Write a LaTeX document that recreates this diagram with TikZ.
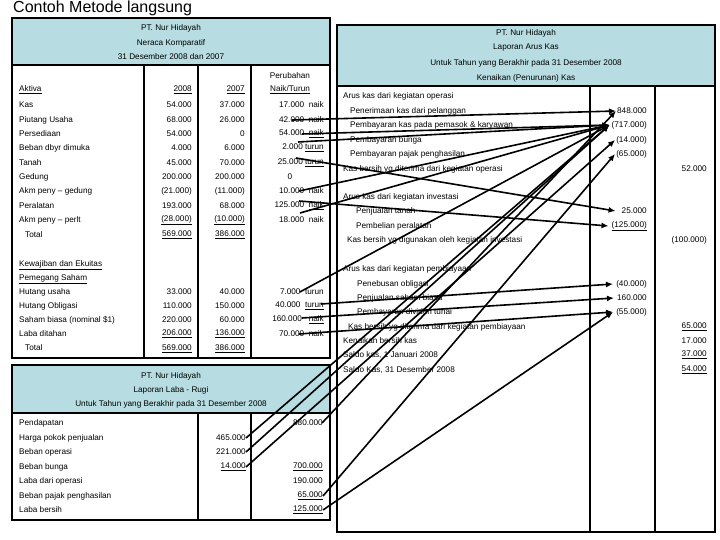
\documentclass[tikz,border=0pt]{standalone}
\usepackage{fontspec}
\setmainfont{Liberation Sans}
\usetikzlibrary{arrows.meta}
\definecolor{hdr}{RGB}{183,221,226}
\begin{document}
\begin{tikzpicture}[x=1pt,y=-1pt,
  t/.style={anchor=west,inner sep=0pt,font=\fontsize{8.2}{9}\selectfont},
  r/.style={anchor=east,inner sep=0pt,font=\fontsize{8.2}{9}\selectfont},
  c/.style={anchor=center,inner sep=0pt,font=\fontsize{8.2}{9}\selectfont},
  box/.style={draw,line width=2.6pt},
  col/.style={line width=1.8pt},
  arr/.style={line width=1.6pt,-{Latex[length=7pt,width=6pt]}}]
\useasboundingbox (0,0) rectangle (720,540);
\node[anchor=west,inner sep=0pt,font=\fontsize{16}{18}\selectfont] (title) at (13,8) {Contoh Metode langsung};
% ---- balance sheet
\fill[white] (12,18) rectangle (330,358);
\fill[hdr] (12,18) rectangle (330,65);
\draw[box] (12,18) rectangle (330,358);
\draw[col] (12,65) -- (330,65);
\draw[col] (144,65) -- (144,358) (198,65) -- (198,358) (251,65) -- (251,358);
\node[c] (b1) at (171,28) {PT. Nur Hidayah};
\node[c] (b2) at (171,43) {Neraca Komparatif};
\node[c] (b3) at (171,57) {31 Desember 2008 dan 2007};
\node[c] (bp) at (290,76) {Perubahan};
\node[t] (a0) at (19,90) {\underline{Aktiva}};
\node[r] (y8) at (192,90) {\underline{2008}};
\node[r] (y7) at (245,90) {\underline{2007}};
\node[c] (nt) at (290,90) {\underline{Naik/Turun}};
\node[t] (a1) at (19,105) {Kas};
\node[t] (a2) at (19,120) {Piutang Usaha};
\node[t] (a3) at (19,134) {Persediaan};
\node[t] (a4) at (19,148) {Beban dbyr dimuka};
\node[t] (a5) at (19,163) {Tanah};
\node[t] (a6) at (19,177) {Gedung};
\node[t] (a7) at (19,191) {Akm peny -- gedung};
\node[t] (a8) at (19,206) {Peralatan};
\node[t] (a9) at (19,220) {Akm peny -- perlt};
\node[t] (a10) at (25,235) {Total};
\node[r] (p1) at (192,105) {54.000};
\node[r] (p2) at (192,120) {68.000};
\node[r] (p3) at (192,134) {54.000};
\node[r] (p4) at (192,148) {4.000};
\node[r] (p5) at (192,163) {45.000};
\node[r] (p6) at (192,177) {200.000};
\node[r] (p7) at (192,191) {(21.000)};
\node[r] (p8) at (192,206) {193.000};
\node[r] (p9) at (192,220) {\underline{(28.000)}};
\node[r] (p10) at (192,235) {\underline{569.000}};
\node[r] (q1) at (245,105) {37.000};
\node[r] (q2) at (245,120) {26.000};
\node[r] (q3) at (245,134) {0};
\node[r] (q4) at (245,148) {6.000};
\node[r] (q5) at (245,163) {70.000};
\node[r] (q6) at (245,177) {200.000};
\node[r] (q7) at (245,191) {(11.000)};
\node[r] (q8) at (245,206) {68.000};
\node[r] (q9) at (245,220) {\underline{(10.000)}};
\node[r] (q10) at (245,235) {\underline{386.000}};
\node[r] (d1) at (324,105) {17.000\ \ naik};
\node[r] (d2) at (324,120) {42.000\ \ naik};
\node[r] (d3) at (324,134) {54.000\ \ \underline{naik}};
\node[r] (d4) at (324,148) {2.000 \underline{turun}};
\node[r] (d5) at (324,163) {25.000 \underline{turun}};
\node[c] (d6) at (290,177) {0};
\node[r] (d7) at (324,191) {10.000\ \ naik};
\node[r] (d8) at (324,206) {125.000\ \ \underline{naik}};
\node[r] (d9) at (324,220) {18.000\ \ naik};
\node[t] (k0) at (19,265) {\underline{Kewajiban dan Ekuitas}};
\node[t] (k1) at (19,279) {\underline{Pemegang Saham}};
\node[t] (k2) at (19,292) {Hutang usaha};
\node[t] (k3) at (19,306) {Hutang Obligasi};
\node[t] (k4) at (19,320) {Saham biasa (nominal \$1)};
\node[t] (k5) at (19,334) {Laba ditahan};
\node[t] (k6) at (25,348) {Total};
\node[r] (kp2) at (192,292) {33.000};
\node[r] (kp3) at (192,306) {110.000};
\node[r] (kp4) at (192,320) {220.000};
\node[r] (kp5) at (192,334) {\underline{206.000}};
\node[r] (kp6) at (192,349) {\underline{569.000}};
\node[r] (kq2) at (245,292) {40.000};
\node[r] (kq3) at (245,306) {150.000};
\node[r] (kq4) at (245,320) {60.000};
\node[r] (kq5) at (245,334) {\underline{136.000}};
\node[r] (kq6) at (245,349) {\underline{386.000}};
\node[r] (kd2) at (324,292) {7.000\ \ turun};
\node[r] (kd3) at (324,306) {40.000\ \ \underline{turun}};
\node[r] (kd4) at (324,320) {160.000\ \ \ \underline{naik}};
\node[r] (kd5) at (324,334) {70.000\ \ naik};
% ---- income statement
\fill[hdr] (12,365) rectangle (330,413);
\draw[box] (12,365) rectangle (330,520);
\draw[col] (12,413) -- (330,413);
\draw[col] (198,413) -- (198,520) (251,413) -- (251,520);
\node[c] (i1) at (171,376) {PT. Nur Hidayah};
\node[c] (i2) at (171,390) {Laporan Laba - Rugi};
\node[c] (i3) at (171,404) {Untuk Tahun yang Berakhir pada 31 Desember 2008};
\node[t] (e1) at (19,423) {Pendapatan};
\node[t] (e2) at (19,438) {Harga pokok penjualan};
\node[t] (e3) at (19,452) {Beban operasi};
\node[t] (e4) at (19,467) {Beban bunga};
\node[t] (e5) at (19,481) {Laba dari operasi};
\node[t] (e6) at (19,496) {Beban pajak penghasilan};
\node[t] (e7) at (19,510) {Laba bersih};
\node[r] (f2) at (246,438) {465.000};
\node[r] (f3) at (246,452) {221.000};
\node[r] (f4) at (246,467) {\underline{14.000}};
\node[r] (g1) at (323,423) {880.000};
\node[r] (g4) at (323,467) {\underline{700.000}};
\node[r] (g5) at (323,481) {190.000};
\node[r] (g6) at (323,496) {\underline{65.000}};
\node[r] (g7) at (323,510) {\underline{125.000}};
% ---- cash flow
\fill[hdr] (337,25) rectangle (715,86);
\draw[box] (337,25) rectangle (715,532);
\draw[col] (337,86) -- (715,86);
\draw[col] (590,86) -- (590,532) (655,86) -- (655,532);
\node[c] (c1) at (526,33) {PT. Nur Hidayah};
\node[c] (c2) at (526,48) {Laporan Arus Kas};
\node[c] (c3) at (526,63) {Untuk Tahun yang Berakhir pada 31 Desember 2008};
\node[c] (c4) at (526,78) {Kenaikan (Penurunan) Kas};
\node[t] (o0) at (343,96) {Arus kas dari kegiatan operasi};
\node[t] (o1) at (350,111) {Penerimaan kas dari pelanggan};
\node[t] (o2) at (350,125) {Pembayaran kas pada pemasok \& karyawan};
\node[t] (o3) at (350,140) {Pembayaran bunga};
\node[t] (o4) at (350,154) {Pembayaran pajak penghasilan};
\node[t] (o5) at (343,169) {Kas bersih yg diterima dari kegiatan operasi};
\node[t] (v0) at (343,197) {Arus kas dari kegiatan investasi};
\node[t] (v1) at (356,211) {Penjualan tanah};
\node[t] (v2) at (356,226) {Pembelian peralatan};
\node[t] (v3) at (347,240) {Kas bersih yg digunakan oleh kegiatan investasi};
\node[t] (w0) at (343,269) {Arus kas dari kegiatan pembiayaan};
\node[t] (w1) at (357,284) {Penebusan obligasi};
\node[t] (w2) at (357,298) {Penjualan saham biasa};
\node[t] (w3) at (357,312) {Pembayaran dividen tunai};
\node[t] (w4) at (348,327) {Kas bersih yg diterima dari kegiatan pembiayaan};
\node[t] (w5) at (343,341) {Kenaikan bersih kas};
\node[t] (w6) at (343,355) {Saldo kas, 1 Januari 2008};
\node[t] (w7) at (343,370) {Saldo Kas, 31 Desember 2008};
\node[r] (x1) at (647,111) {848.000};
\node[r] (x2) at (647,125) {(717.000)};
\node[r] (x3) at (647,140) {(14.000)};
\node[r] (x4) at (647,154) {(65.000)};
\node[r] (x5) at (707,169) {52.000};
\node[r] (y1) at (647,211) {25.000};
\node[r] (y2) at (647,226) {\underline{(125.000)}};
\node[r] (y3) at (707,240) {(100.000)};
\node[r] (z1) at (647,284) {(40.000)};
\node[r] (z2) at (647,298) {160.000};
\node[r] (z3) at (647,312) {(55.000)};
\node[r] (z4) at (707,327) {\underline{65.000}};
\node[r] (z5) at (707,341) {17.000};
\node[r] (z6) at (707,355) {\underline{37.000}};
\node[r] (z7) at (707,370) {\underline{54.000}};
% ---- arrows
\draw[arr] ([xshift=-1pt]g1.east) -- ([xshift=-1pt]x1.west);
\draw[arr] ([xshift=-32pt]d2.east) -- ([xshift=-1pt]x1.west);
\draw[arr] (f2.east) -- ([xshift=-2pt]x2.west);
\draw[arr] ([xshift=-22pt]d3.east) -- ([xshift=-2pt]x2.west);
\draw[arr] ([xshift=-26pt,yshift=6pt]d4.east) -- ([xshift=-2pt]x2.west);
\draw[arr] ([xshift=-25pt]d7.east) -- ([xshift=-2pt]x2.west);
\draw[arr] ([xshift=-24pt,yshift=7pt]d9.east) -- ([xshift=-2pt]x2.west);
\draw[arr] (kd2.west) ++(20pt,0) -- ([xshift=-2pt]x2.west);
\draw[arr] (f3.east) -- ([xshift=-2pt]x2.west);
\draw[arr] (f4.east) -- ([xshift=-1pt]x3.west);
\draw[arr] (g6.east) -- ([xshift=-1pt]x4.west);
\draw[arr] ([xshift=-28pt,yshift=5pt]d5.east) -- ([xshift=-6pt]y1.west);
\draw[arr] ([xshift=-25pt,yshift=5pt]d8.east) -- ([xshift=-3pt]y2.west);
\draw[arr] ([xshift=-3pt,yshift=2pt]kd3.east) -- ([xshift=-3pt]z1.west);
\draw[arr] ([xshift=-22pt,yshift=2pt]kd4.east) -- ([xshift=-3pt]z2.west);
\draw[arr] ([xshift=-25pt]kd5.east) -- ([xshift=-3pt]z3.west);
\draw[arr] (g7.east) -- ([xshift=-3pt]z3.west);
\end{tikzpicture}
\end{document}
